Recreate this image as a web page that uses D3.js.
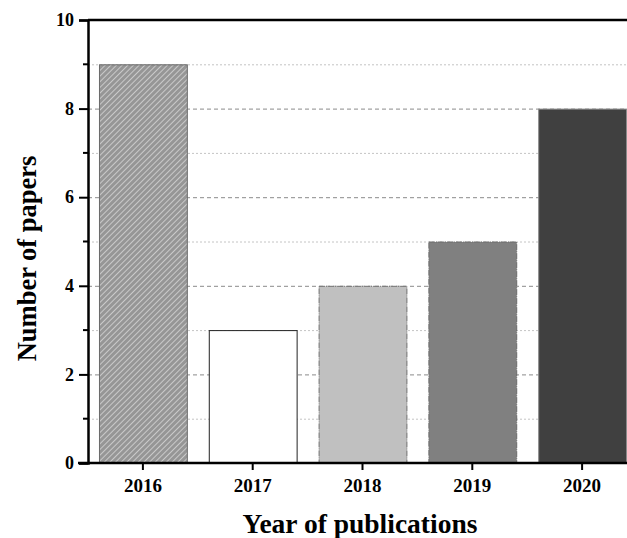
<!DOCTYPE html>
<html>
<head>
<meta charset="utf-8">
<script src="https://cdn.jsdelivr.net/npm/d3@7/dist/d3.min.js"></script>
<style>
  html, body { margin: 0; padding: 0; background: #fff; }
  svg { display: block; }
  text { font-family: "Liberation Serif", "Times New Roman", serif; font-weight: bold; fill: #000; }
</style>
</head>
<body>
<div id="chart"></div>
<script>
// Publications per year
const years = ["2016", "2017", "2018", "2019", "2020"];
const papers = [9, 3, 4, 5, 8];
const yMajorTicks = [0, 2, 4, 6, 8, 10];
const yMinorTicks = [1, 3, 5, 7, 9];

// Per-bar fill and outline
const barFills = ["url(#hatch)", "#ffffff", "#c0c0c0", "#808080", "#404040"];
const barStrokes = ["#6a6a6a", "#222222", "#707070", "#6a6a6a", "#8a8a8a"];
const barDashes = [null, null, "6,1,1,1", "6,1,1,1", null];

const W = 627, H = 538;
const plotLeft = 88, plotTop = 20, plotBottom = 463, plotRight = 637;

const svg = d3.select("#chart").append("svg")
  .attr("width", W).attr("height", H);

// diagonal hatch for the first bar
const defs = svg.append("defs");
const pat = defs.append("pattern")
  .attr("id", "hatch")
  .attr("patternUnits", "userSpaceOnUse")
  .attr("width", 4).attr("height", 4)
  .attr("patternTransform", "rotate(45)");
pat.append("rect").attr("width", 4).attr("height", 4).attr("fill", "#969696");
pat.append("line").attr("x1", 0).attr("y1", 0).attr("x2", 0).attr("y2", 4)
  .attr("stroke", "#e6e6e6").attr("stroke-width", 1.3);

const x = d3.scaleBand().domain(years).range([plotLeft, plotRight])
  .paddingInner(0.2).paddingOuter(0.1);
const y = d3.scaleLinear().domain([0, 10]).range([plotBottom, plotTop]);

// grid lines
const grid = svg.append("g");
grid.selectAll("line.minor").data(yMinorTicks).join("line")
  .attr("class", "minor")
  .attr("x1", plotLeft).attr("x2", W)
  .attr("y1", d => y(d) + 0.5).attr("y2", d => y(d) + 0.5)
  .attr("stroke", "#c4c4c4").attr("stroke-width", 1)
  .attr("stroke-dasharray", "2,2");
grid.selectAll("line.major").data(yMajorTicks.filter(d => d > 0 && d < 10)).join("line")
  .attr("class", "major")
  .attr("x1", plotLeft).attr("x2", W)
  .attr("y1", d => y(d) + 0.5).attr("y2", d => y(d) + 0.5)
  .attr("stroke", "#8a8a8a").attr("stroke-width", 1)
  .attr("stroke-dasharray", "4,3");

// bars
svg.append("g").selectAll("rect").data(papers).join("rect")
  .attr("x", (d, i) => x(years[i]) + 0.5)
  .attr("y", d => y(d) + 0.5)
  .attr("width", x.bandwidth())
  .attr("height", d => y(0) - y(d))
  .attr("fill", (d, i) => barFills[i])
  .attr("stroke", (d, i) => barStrokes[i])
  .attr("stroke-width", 1)
  .attr("stroke-dasharray", (d, i) => barDashes[i]);

// y axis with major labels and minor ticks
const yAxis = svg.append("g").attr("transform", `translate(${plotLeft},0)`)
  .call(d3.axisLeft(y).tickValues(yMajorTicks).tickSize(9).tickPadding(5).tickFormat(d3.format("d")));
yAxis.append("g").selectAll("line").data(yMinorTicks).join("line")
  .attr("x1", 0).attr("x2", -5)
  .attr("y1", d => y(d)).attr("y2", d => y(d))
  .attr("stroke", "#000").attr("stroke-width", 2);
yAxis.select(".domain").attr("stroke-width", 2.5);
yAxis.selectAll(".tick line").attr("stroke-width", 2);
yAxis.selectAll(".tick text")
  .style("font-size", "18px")
  .style("font-family", "'Liberation Serif', serif").style("font-weight", "bold");

// x axis
const xAxis = svg.append("g").attr("transform", `translate(0,${plotBottom})`)
  .call(d3.axisBottom(x).tickSize(7).tickPadding(9).tickSizeOuter(0));
xAxis.select(".domain").attr("d", `M${plotLeft - 10},0H${W}`).attr("stroke-width", 2.5);
xAxis.selectAll(".tick line").attr("stroke-width", 2);
xAxis.selectAll(".tick text")
  .style("font-size", "19px")
  .style("font-family", "'Liberation Serif', serif").style("font-weight", "bold");

// top frame line
svg.append("line").attr("x1", plotLeft).attr("x2", W)
  .attr("y1", plotTop).attr("y2", plotTop)
  .attr("stroke", "#000").attr("stroke-width", 2.5);

// axis titles
svg.append("text")
  .attr("x", 360).attr("y", 533)
  .attr("text-anchor", "middle").style("font-size", "27.5px")
  .text("Year of publications");
svg.append("text")
  .attr("transform", `translate(36,258.5) rotate(-90)`)
  .attr("text-anchor", "middle").style("font-size", "26.5px")
  .text("Number of papers");
</script>
</body>
</html>
